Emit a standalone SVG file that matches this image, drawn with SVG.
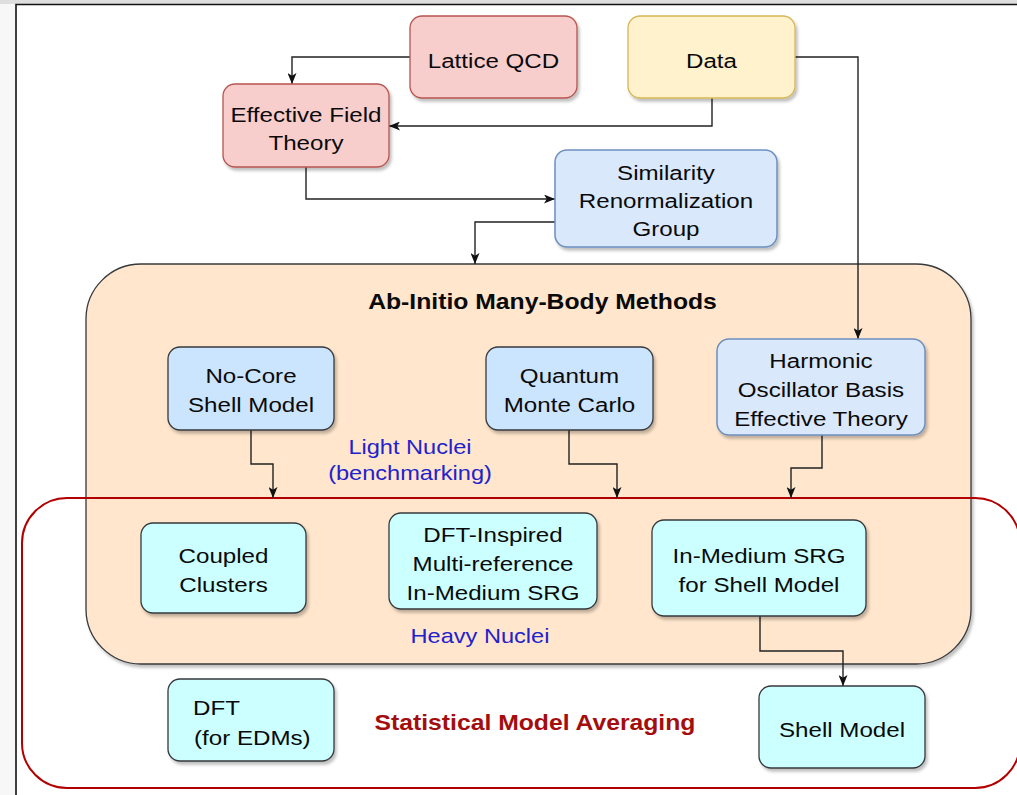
<svg xmlns="http://www.w3.org/2000/svg" width="1017" height="795" viewBox="0 0 1017 795">
<defs>
<style>
.t{font-family:"Liberation Sans",Arial,sans-serif;font-size:21px;fill:#0a0a0a;text-anchor:middle}
.b{font-weight:bold;font-size:21.5px}
.blue{fill:#2222cc;font-size:20.5px}
.red{fill:#a50d0d}
.conn{fill:none;stroke:#222;stroke-width:1.4}
.pink{fill:#f8cecc;stroke:#b85450;stroke-width:1.3}
.yellow{fill:#fff2cc;stroke:#d6b656;stroke-width:1.3}
.lblue{fill:#dae8fc;stroke:#6c8ebf;stroke-width:1.5}
.mblue{fill:#cce5ff;stroke:#36393d;stroke-width:1.3}
.cyan{fill:#ccffff;stroke:#36393d;stroke-width:1.3}
</style>
<filter id="sh" x="-10%" y="-10%" width="130%" height="130%">
<feDropShadow dx="2" dy="3" stdDeviation="1.5" flood-color="#000" flood-opacity="0.25"/>
</filter>
<marker id="ar" viewBox="0 0 11 9" markerWidth="11" markerHeight="9" refX="11" refY="4.5" orient="auto" markerUnits="userSpaceOnUse">
<path d="M0,0 L11,4.5 L0,9 L2.8,4.5 Z" fill="#111"/>
</marker>
</defs>
<rect x="0" y="0" width="1017" height="795" fill="#fff"/>
<rect x="0" y="0" width="1017" height="4" fill="#dedede"/>
<rect x="0" y="4" width="15" height="791" fill="#f7f7f7"/>
<path d="M16,795 V4.5 H1017" fill="none" stroke="#111" stroke-width="1.6"/>

<g id="ab-initio">
<rect x="86" y="264" width="885" height="400" rx="55" fill="#ffe6cc" stroke="#36393d" stroke-width="1.3" filter="url(#sh)"/>
<text class="t b" transform="scale(1.15 1)" x="471.74" y="309">Ab-Initio Many-Body Methods</text>
<text class="t blue" transform="scale(1.15 1)" x="356.52" y="454">Light Nuclei</text>
<text class="t blue" transform="scale(1.15 1)" x="356.52" y="480">(benchmarking)</text>
<text class="t blue" transform="scale(1.15 1)" x="417.39" y="643">Heavy Nuclei</text>
</g>

<g id="statistical">
<rect x="22" y="498" width="998" height="290" rx="45" fill="none" stroke="#b20000" stroke-width="2"/>
<text class="t b red" transform="scale(1.15 1)" x="465.22" y="730">Statistical Model Averaging</text>
</g>

<g id="connectors">
<path class="conn" d="M410,57 H292 V84" marker-end="url(#ar)"/>
<path class="conn" d="M712,98 V126 H389" marker-end="url(#ar)"/>
<path class="conn" d="M795,57 H858 V339" marker-end="url(#ar)"/>
<path class="conn" d="M306,167 V199 H555" marker-end="url(#ar)"/>
<path class="conn" d="M555,222 H475 V264" marker-end="url(#ar)"/>
<path class="conn" d="M251,430 V464 H273 V498" marker-end="url(#ar)"/>
<path class="conn" d="M569,430 V464 H617 V498" marker-end="url(#ar)"/>
<path class="conn" d="M822,435 V468 H791 V498" marker-end="url(#ar)"/>
<path class="conn" d="M760,616 V651 H843 V686" marker-end="url(#ar)"/>
</g>

<g id="lattice-qcd">
<rect class="pink" x="410" y="16" width="167" height="82" rx="12" filter="url(#sh)"/>
<text class="t" transform="scale(1.15 1)" x="429.13" y="68">Lattice QCD</text>
</g>
<g id="data">
<rect class="yellow" x="628" y="16" width="167" height="82" rx="12" filter="url(#sh)"/>
<text class="t" transform="scale(1.15 1)" x="618.70" y="68">Data</text>
</g>
<g id="eft">
<rect class="pink" x="223" y="84" width="166" height="83" rx="12" filter="url(#sh)"/>
<text class="t" transform="scale(1.15 1)" x="266.09" y="122">Effective Field</text>
<text class="t" transform="scale(1.15 1)" x="266.09" y="150">Theory</text>
</g>
<g id="srg">
<rect class="lblue" x="555" y="150" width="222" height="97" rx="12" filter="url(#sh)"/>
<text class="t" transform="scale(1.15 1)" x="579.13" y="180">Similarity</text>
<text class="t" transform="scale(1.15 1)" x="579.13" y="208">Renormalization</text>
<text class="t" transform="scale(1.15 1)" x="579.13" y="236">Group</text>
</g>
<g id="ncsm">
<rect class="mblue" x="168" y="347" width="166" height="83" rx="12" filter="url(#sh)"/>
<text class="t" transform="scale(1.15 1)" x="218.26" y="383">No-Core</text>
<text class="t" transform="scale(1.15 1)" x="218.26" y="412">Shell Model</text>
</g>
<g id="qmc">
<rect class="mblue" x="486" y="347" width="167" height="83" rx="12" filter="url(#sh)"/>
<text class="t" transform="scale(1.15 1)" x="495.22" y="383">Quantum</text>
<text class="t" transform="scale(1.15 1)" x="495.22" y="412">Monte Carlo</text>
</g>
<g id="hobet">
<rect class="lblue" x="717" y="339" width="208" height="96" rx="12" filter="url(#sh)"/>
<text class="t" transform="scale(1.15 1)" x="713.91" y="368">Harmonic</text>
<text class="t" transform="scale(1.15 1)" x="713.91" y="397">Oscillator Basis</text>
<text class="t" transform="scale(1.15 1)" x="713.91" y="426">Effective Theory</text>
</g>
<g id="coupled-clusters">
<rect class="cyan" x="141" y="523" width="165" height="90" rx="12" filter="url(#sh)"/>
<text class="t" transform="scale(1.15 1)" x="194.35" y="563">Coupled</text>
<text class="t" transform="scale(1.15 1)" x="194.35" y="592">Clusters</text>
</g>
<g id="dft-imsrg">
<rect class="cyan" x="389" y="513" width="208" height="96" rx="12" filter="url(#sh)"/>
<text class="t" transform="scale(1.15 1)" x="428.70" y="542">DFT-Inspired</text>
<text class="t" transform="scale(1.15 1)" x="428.70" y="571">Multi-reference</text>
<text class="t" transform="scale(1.15 1)" x="428.70" y="600">In-Medium SRG</text>
</g>
<g id="imsrg-sm">
<rect class="cyan" x="652" y="520" width="214" height="96" rx="12" filter="url(#sh)"/>
<text class="t" transform="scale(1.15 1)" x="660.00" y="563">In-Medium SRG</text>
<text class="t" transform="scale(1.15 1)" x="660.00" y="592">for Shell Model</text>
</g>
<g id="dft-edm">
<rect class="cyan" x="168" y="679" width="166" height="82" rx="12" filter="url(#sh)"/>
<text class="t" transform="scale(1.15 1)" x="167.83" y="715" style="text-anchor:start">DFT</text>
<text class="t" transform="scale(1.15 1)" x="168.70" y="745" style="text-anchor:start">(for EDMs)</text>
</g>
<g id="shell-model">
<rect class="cyan" x="759" y="686" width="166" height="82" rx="12" filter="url(#sh)"/>
<text class="t" transform="scale(1.15 1)" x="732.17" y="737">Shell Model</text>
</g>
</svg>
